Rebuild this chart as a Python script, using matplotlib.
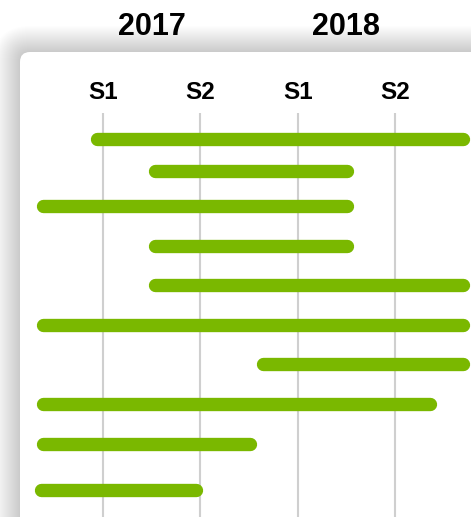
import matplotlib.pyplot as plt
from matplotlib.patches import FancyBboxPatch
from matplotlib.transforms import IdentityTransform

# timeline: x in half-years, 0 = S1 2017
half_labels = ["S1", "S2", "S1", "S2"]
half_pos = [0, 1, 2, 3]
years = ["2017", "2018"]
year_pos = [0.5, 2.5]

# row positions (uneven spacing as in the picture) and bar start / end
rows = [0, 0.81, 1.68, 2.67, 3.66, 4.66, 5.63, 6.63, 7.63, 8.78]
starts = [-0.06, 0.53, -0.62, 0.53, 0.53, -0.62, 1.64, -0.62, -0.62, -0.645]
ends = [3.70, 2.51, 2.51, 2.51, 3.70, 3.70, 3.70, 3.365, 1.51, 0.95]

GREEN = "#7ab800"
GRID = "#cfcfcf"
W, H = 471, 517

plt.rcParams["font.family"] = ["Liberation Sans", "DejaVu Sans"]

fig = plt.figure(figsize=(W / 100, H / 100), dpi=100)
fig.patch.set_facecolor("white")

# soft shadow around the white card
px0, ptop = 20, H - 52
for i in range(26, 0, -1):
    sh = FancyBboxPatch((px0 - i, -40), W + 60, ptop + 40 + i,
                        boxstyle="round,pad=0,rounding_size=%d" % (10 + i),
                        transform=IdentityTransform(), facecolor="black",
                        edgecolor="none", alpha=0.0065, zorder=0)
    fig.add_artist(sh)
card = FancyBboxPatch((px0, -40), W + 60, ptop + 40,
                      boxstyle="round,pad=0,rounding_size=10",
                      transform=IdentityTransform(), facecolor="white",
                      edgecolor="none", zorder=1)
fig.add_artist(card)

ax = fig.add_axes([0, 0, 1, 1])
ax.set_facecolor("none")
ax.set_zorder(2)
ax.set_xlim(-1.0628, 3.783)
ax.set_ylim(9.4575, -3.4675)
ax.axis("off")

ax.vlines(half_pos, -0.6425, 9.6, color=GRID, lw=1.5, zorder=1)

for r, s, e in zip(rows, starts, ends):
    ax.plot([s, e], [r, r], color=GREEN, lw=9.6, solid_capstyle="round", zorder=3)

for x, t in zip(half_pos, half_labels):
    ax.text(x, -0.9925, t, ha="center", va="baseline", fontsize=17.5,
            fontweight="bold", color="black")
for x, t in zip(year_pos, years):
    ax.text(x, -2.5925, t, ha="center", va="baseline", fontsize=22,
            fontweight="bold", color="black")

fig.savefig("out.png", dpi=100)
